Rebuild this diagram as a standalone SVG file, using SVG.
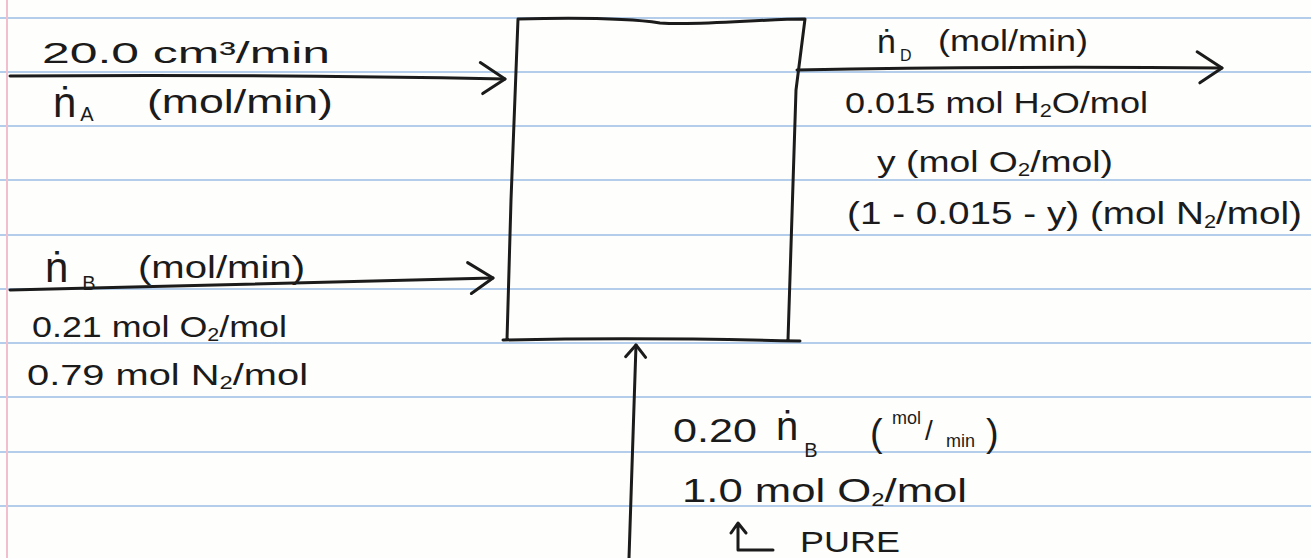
<svg xmlns="http://www.w3.org/2000/svg" width="1311" height="558" viewBox="0 0 1311 558">
<style>
.rule{stroke:#b3cdea;stroke-width:2}
.margin{stroke:#f2bfcf;stroke-width:2}
.ink{fill:none;stroke:#1b1b1b;stroke-width:3;stroke-linecap:round;stroke-linejoin:round}
.t{font-family:"Liberation Sans",Arial,sans-serif;fill:#1b1b1b}
</style>
<defs>
<marker id="chev" markerUnits="userSpaceOnUse" markerWidth="40" markerHeight="40" refX="0" refY="0" viewBox="-30 -20 40 40" orient="auto" overflow="visible">
<path d="M-25,-16 L0,0 L-22,15" fill="none" stroke="#1b1b1b" stroke-width="3" stroke-linecap="round" stroke-linejoin="round"/>
</marker>
<marker id="chevS" markerUnits="userSpaceOnUse" markerWidth="30" markerHeight="30" refX="0" refY="0" viewBox="-20 -15 30 30" orient="auto" overflow="visible">
<path d="M-12,-10 L0,0 L-12,10" fill="none" stroke="#1b1b1b" stroke-width="3" stroke-linecap="round" stroke-linejoin="round"/>
</marker>
</defs>
<g id="paper">
<rect x="0" y="0" width="1311" height="558" fill="#fefefc"/>
<line class="rule" x1="0" y1="18" x2="1311" y2="18"/>
<line class="rule" x1="0" y1="72" x2="1311" y2="72"/>
<line class="rule" x1="0" y1="126" x2="1311" y2="126"/>
<line class="rule" x1="0" y1="180" x2="1311" y2="180"/>
<line class="rule" x1="0" y1="235" x2="1311" y2="235"/>
<line class="rule" x1="0" y1="289" x2="1311" y2="289"/>
<line class="rule" x1="0" y1="343" x2="1311" y2="343"/>
<line class="rule" x1="0" y1="397" x2="1311" y2="397"/>
<line class="rule" x1="0" y1="452" x2="1311" y2="452"/>
<line class="rule" x1="0" y1="506" x2="1311" y2="506"/>
<line class="margin" x1="7" y1="0" x2="7" y2="558"/>
</g>
<g id="unit">
<path class="ink" d="M518,19 C600,17 640,20 660,23 C700,26 760,19 805,19 L796,90 L788,340 M503,340 Q640,337 800,341 M507,340 L511,200 L518,19"/>
</g>
<g id="connectors">
<path class="ink" d="M10,76 Q250,74 505,79" marker-end="url(#chev)"/>
<path class="ink" d="M10,290 Q250,284 493,278" marker-end="url(#chev)"/>
<path class="ink" d="M797,70 Q1000,66 1222,68" marker-end="url(#chev)"/>
<path class="ink" d="M629,558 L636,345" marker-end="url(#chevS)"/>
</g>
<g id="label-A">
<text class="t" x="42" y="63" font-size="30" textLength="288" lengthAdjust="spacingAndGlyphs">20.0 cm³/min</text>
<text class="t" x="53" y="117" font-size="42">ṅ<tspan font-size="20" dx="4" dy="4">A</tspan></text>
<text class="t" x="147" y="113" font-size="34" textLength="186" lengthAdjust="spacingAndGlyphs">(mol/min)</text>
</g>
<g id="label-B">
<text class="t" x="45" y="282" font-size="42">ṅ<tspan font-size="20" dx="14" dy="8">B</tspan></text>
<text class="t" x="138" y="278" font-size="32" textLength="167" lengthAdjust="spacingAndGlyphs">(mol/min)</text>
<text class="t" x="32" y="337" font-size="30" textLength="255" lengthAdjust="spacingAndGlyphs">0.21 mol O<tspan font-size="18" dy="4">2</tspan><tspan dy="-4">/mol</tspan></text>
<text class="t" x="27" y="385" font-size="30" textLength="281" lengthAdjust="spacingAndGlyphs">0.79 mol N<tspan font-size="18" dy="4">2</tspan><tspan dy="-4">/mol</tspan></text>
</g>
<g id="label-D">
<text class="t" x="877" y="53" font-size="34">ṅ<tspan font-size="16" dx="4" dy="8">D</tspan></text>
<text class="t" x="938" y="51" font-size="30" textLength="150" lengthAdjust="spacingAndGlyphs">(mol/min)</text>
<text class="t" x="845" y="113" font-size="30" textLength="303" lengthAdjust="spacingAndGlyphs">0.015 mol H<tspan font-size="18" dy="4">2</tspan><tspan dy="-4">O/mol</tspan></text>
<text class="t" x="877" y="172" font-size="30" textLength="236" lengthAdjust="spacingAndGlyphs">y (mol O<tspan font-size="18" dy="4">2</tspan><tspan dy="-4">/mol)</tspan></text>
<text class="t" x="847" y="224" font-size="32" textLength="455" lengthAdjust="spacingAndGlyphs">(1 - 0.015 - y) (mol N<tspan font-size="18" dy="4">2</tspan><tspan dy="-4">/mol)</tspan></text>
</g>
<g id="label-C">
<text class="t" x="673" y="442" font-size="33" textLength="84" lengthAdjust="spacingAndGlyphs">0.20</text>
<text class="t" x="776" y="440" font-size="40">ṅ<tspan font-size="20" dx="6" dy="17">B</tspan></text>
<text class="t" x="870" y="446" font-size="38">(</text>
<text class="t" x="892" y="424" font-size="18">mol</text>
<text class="t" x="925" y="440" font-size="28">/</text>
<text class="t" x="946" y="447" font-size="18">min</text>
<text class="t" x="986" y="446" font-size="38">)</text>
<text class="t" x="682" y="502" font-size="33" textLength="285" lengthAdjust="spacingAndGlyphs">1.0 mol O<tspan font-size="18" dy="4">2</tspan><tspan dy="-4">/mol</tspan></text>
<path class="ink" d="M773,550 L738,550 L738,524 M731,533 L738,523 L746,533"/>
<text class="t" x="800" y="552" font-size="30" textLength="100" lengthAdjust="spacingAndGlyphs">PURE</text>
</g>
</svg>
